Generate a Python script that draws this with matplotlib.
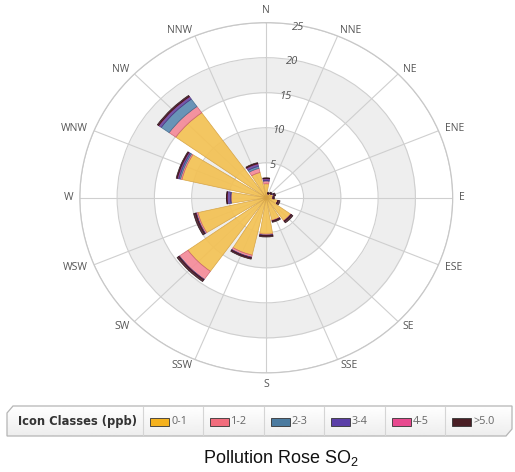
import numpy as np
import matplotlib.pyplot as plt
from matplotlib.patches import Polygon, Rectangle

plt.rcParams['mathtext.default'] = 'regular'

# data
directions = ['N', 'NNE', 'NE', 'ENE', 'E', 'ESE', 'SE', 'SSE',
              'S', 'SSW', 'SW', 'WSW', 'W', 'WNW', 'NW', 'NNW']
c01 = [2.0, 0.6, 0.8, 1.0, 0.9, 1.6, 4.0, 3.3, 5.2, 8.4, 12.9, 9.4, 4.7, 11.6, 14.9, 3.7]
c12 = [0.4, 0.0, 0.0, 0.0, 0.0, 0.0, 0.1, 0.1, 0.15, 0.3, 1.4, 0.2, 0.05, 0.2, 1.1, 0.6]
c23 = [0.05, 0, 0, 0, 0, 0, 0, 0, 0, 0.05, 0.05, 0.05, 0.05, 0.2, 1.3, 0.3]
c34 = [0.25, 0, 0, 0.1, 0, 0, 0, 0, 0.05, 0.05, 0.05, 0.05, 0.45, 0.2, 0.4, 0.35]
c45 = [0.05, 0, 0, 0, 0, 0, 0, 0, 0, 0, 0, 0, 0, 0.05, 0.05, 0.05]
c5 = [0.1, 0.2, 0.2, 0.2, 0.2, 0.3, 0.3, 0.2, 0.2, 0.2, 0.3, 0.3, 0.1, 0.15, 0.2, 0.15]
classes = ['0-1', '1-2', '2-3', '3-4', '4-5', '>5.0']
rings = [5, 10, 15, 20, 25]

bar_cols = ['#F3C153', '#F48A99', '#5E8DB3', '#6B4CA5', '#E4528F', '#4D2430']
bar_edges = ['#D4A040', '#C8606E', '#3F6A8C', '#4A3080', '#B03068', '#2A1015']
leg_cols = ['#F5B21E', '#F26D7D', '#4B7BA0', '#5B3FA8', '#E8498F', '#4A1F25']

fig = plt.figure(figsize=(5.15, 4.72), dpi=100)
ax = fig.add_axes([0.155, 0.21, 0.724, 0.742], projection='polar')
ax.set_aspect('auto')
ax.set_theta_zero_location('N')
ax.set_theta_direction(-1)
ax.set_ylim(0, 25)

# shaded rings
tt = np.linspace(0, 2 * np.pi, 300)
ax.fill_between(tt, 5, 10, color='#eeeeee', zorder=0, lw=0)
ax.fill_between(tt, 15, 20, color='#eeeeee', zorder=0, lw=0)

theta = np.deg2rad(np.arange(16) * 22.5)
ax.set_xticks(theta)
ax.set_xticklabels([])
ax.set_yticks(rings)
ax.set_yticklabels([])
ax.grid(True, color='#cfcfcf', lw=0.8)
ax.spines['polar'].set_color('#c8c8c8')
ax.spines['polar'].set_linewidth(0.9)
ax.tick_params(length=0)

width = np.deg2rad(19)
bottom = np.zeros(16)
for vals, col, ec in zip([c01, c12, c23, c34, c45, c5], bar_cols, bar_edges):
    v = np.array(vals, dtype=float)
    ax.bar(theta, v, width=width, bottom=bottom, color=col, edgecolor=ec,
           lw=0.5, alpha=0.92, zorder=3)
    bottom += v

# direction labels
for th, name in zip(theta, directions):
    s = np.sin(th)
    c = np.cos(th)
    if abs(s) < 0.1:
        ha = 'center'
    elif s > 0:
        ha = 'left'
    else:
        ha = 'right'
    va = 'center'
    if c > 0.95:
        va = 'bottom'
    elif c < -0.95:
        va = 'top'
    ax.text(th, 25.9, name, ha=ha, va=va, fontsize=7.5, color='#555555',
            family='Open Sans')

# radial labels
for r in rings:
    ax.text(np.deg2rad(10), r - 0.3, str(r), fontsize=8, style='italic',
            color='#555555', ha='center', va='center', family='Open Sans')

# legend box
lax = fig.add_axes([0, 0, 1, 1])
lax.axis('off')
box = [(7, 436), (7, 413), (13, 406), (512, 406), (512, 429), (506, 436)]
poly = Polygon(box, closed=True, fc='none', ec='#b5b5b5', lw=0.9, zorder=2)
lax.add_patch(poly)
grad = np.linspace(1.0, 0.93, 50).reshape(-1, 1)
im = lax.imshow(grad, cmap='gray', vmin=0, vmax=1, extent=[7, 512, 436, 406],
                aspect='auto', zorder=1)
im.set_clip_path(poly)
lax.set_xlim(0, 515)
lax.set_ylim(472, 0)
lax.text(18, 421, 'Icon Classes (ppb)', fontsize=8.3, fontweight='bold',
         color='#333333', va='center', ha='left')
seps = [143, 203, 264, 324, 385, 445]
for x0, lab, col in zip(seps, classes, leg_cols):
    lax.plot([x0, x0], [407, 435], color='#d5d5d5', lw=0.8, zorder=3)
    lax.add_patch(Rectangle((x0 + 7, 417.5), 19, 8, fc=col, ec='#333333',
                            lw=0.6, zorder=3))
    lax.text(x0 + 28, 421.5, lab, fontsize=7.8, color='#666666', va='center',
             ha='left', family='Open Sans')

fig.text(0.545, 0.008, 'Pollution Rose SO$_2$', ha='center', va='bottom',
         fontsize=13, color='#111111', family='Liberation Sans')

fig.savefig('out.png', dpi=100)
